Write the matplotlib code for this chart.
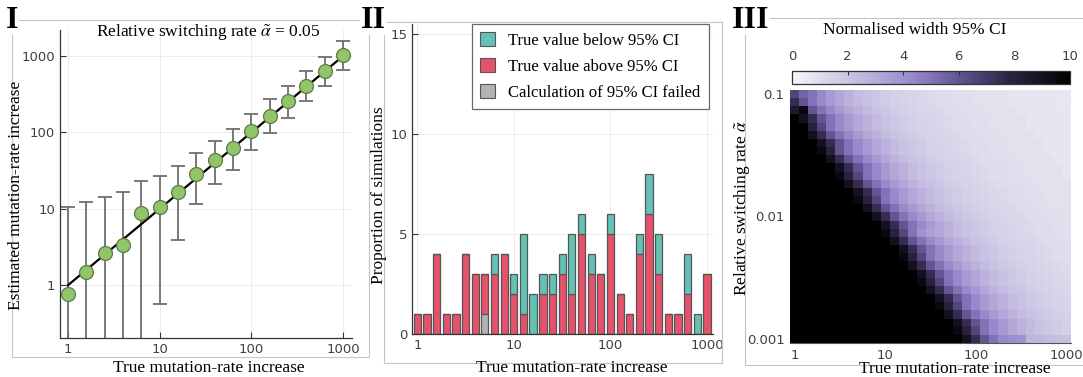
import matplotlib
matplotlib.use("Agg")
import matplotlib.pyplot as plt
import numpy as np
from matplotlib.colors import LinearSegmentedColormap
from matplotlib.patches import Rectangle

W, H = 1083, 377
SERIF = ["Liberation Serif", "DejaVu Serif"]
SANS = ["DejaVu Sans"]
plt.rcParams["mathtext.fontset"] = "stix"

# panel I: estimated vs true increase at alpha = 0.05
true_rate = [1, 1.585, 2.512, 3.981, 6.31, 10, 15.85, 25.12, 39.81, 63.1,
             100, 158.5, 251.2, 398.1, 631, 1000]
est_rate = [0.76, 1.49, 2.68, 3.4, 8.7, 10.6, 16.4, 28.5, 43.5, 63,
            105, 166, 257, 410, 635, 1030]
ci_low = [0.1, 0.1, 0.1, 0.1, 0.1, 0.56, 3.9, 11.5, 21, 32,
          59, 97, 156, 257, 405, 660]
ci_high = [10.6, 12.4, 14.4, 16.4, 23, 27, 36.6, 53, 77, 110,
           175, 270, 410, 640, 980, 1590]

# panel II: share of simulations where the truth falls outside the CI
bar_x = [1, 1.26, 1.58, 2.0, 2.51, 3.16, 3.98, 5.01, 6.31, 7.94,
         10, 12.6, 15.8, 20.0, 25.1, 31.6, 39.8, 50.1, 63.1, 79.4,
         100, 126, 158, 200, 251, 316, 398, 501, 631, 794, 1000]
failed = [0, 0, 0, 0, 0, 0, 0, 1, 0, 0,
          0, 0, 0, 0, 0, 0, 0, 0, 0, 0,
          0, 0, 0, 0, 0, 0, 0, 0, 0, 0, 0]
above = [1, 1, 4, 1, 1, 4, 3, 2, 3, 4,
         2, 1, 0, 2, 2, 3, 2, 5, 3, 3,
         5, 2, 1, 4, 6, 3, 1, 1, 2, 0, 3]
below = [0, 0, 0, 0, 0, 0, 0, 0, 1, 0,
         1, 4, 2, 1, 1, 1, 3, 1, 1, 0,
         1, 0, 0, 1, 2, 2, 0, 0, 2, 1, 0]

# panel III: normalised CI width, rows from alpha = 0.1 down to 0.001
alpha_rows = [0.1, 0.0858, 0.0736, 0.0631, 0.0541, 0.0464, 0.0398, 0.0341,
              0.0293, 0.0251, 0.0215, 0.0185, 0.0158, 0.0136, 0.0117, 0.01,
              0.00858, 0.00736, 0.00631, 0.00541, 0.00464, 0.00398, 0.00341,
              0.00293, 0.00251, 0.00215, 0.00185, 0.00158, 0.00136, 0.00117,
              0.001]
width_ci = [
    [6.5, 5.5, 5.0, 4.3, 3.7, 3.2, 2.8, 2.4, 2.1, 1.9, 1.7, 1.5, 1.4, 1.3, 1.2, 1.1, 1.0, 1.0, 0.9, 0.9, 0.8, 0.8, 0.8, 0.8, 0.7, 0.7, 0.7, 0.7, 0.7, 0.7, 0.6],
    [7.5, 6.0, 5.0, 4.3, 3.7, 3.2, 2.8, 2.4, 2.1, 1.9, 1.7, 1.5, 1.4, 1.3, 1.2, 1.1, 1.0, 1.0, 0.9, 0.9, 0.8, 0.8, 0.8, 0.8, 0.7, 0.7, 0.7, 0.7, 0.7, 0.7, 0.6],
    [8.5, 9.5, 6.0, 5.0, 4.3, 3.7, 3.2, 2.8, 2.4, 2.1, 1.9, 1.7, 1.5, 1.4, 1.3, 1.2, 1.1, 1.0, 1.0, 0.9, 0.9, 0.8, 0.8, 0.8, 0.8, 0.7, 0.7, 0.7, 0.7, 0.7, 0.7],
    [10, 9.0, 7.5, 6.0, 5.0, 4.3, 3.7, 3.2, 2.8, 2.4, 2.1, 1.9, 1.7, 1.5, 1.4, 1.3, 1.2, 1.1, 1.0, 1.0, 0.9, 0.9, 0.8, 0.8, 0.8, 0.8, 0.7, 0.7, 0.7, 0.7, 0.7],
    [10, 10, 8.0, 6.5, 5.0, 4.3, 3.7, 3.2, 2.8, 2.4, 2.1, 1.9, 1.7, 1.5, 1.4, 1.3, 1.2, 1.1, 1.0, 1.0, 0.9, 0.9, 0.8, 0.8, 0.8, 0.8, 0.7, 0.7, 0.7, 0.7, 0.7],
    [10, 10, 9.0, 7.5, 6.0, 5.0, 4.3, 3.7, 3.2, 2.8, 2.4, 2.1, 1.9, 1.7, 1.5, 1.4, 1.3, 1.2, 1.1, 1.0, 1.0, 0.9, 0.9, 0.8, 0.8, 0.8, 0.8, 0.7, 0.7, 0.7, 0.7],
    [10, 10, 10, 9.0, 7.5, 6.0, 5.0, 4.3, 3.7, 3.2, 2.8, 2.4, 2.1, 1.9, 1.7, 1.5, 1.4, 1.3, 1.2, 1.1, 1.0, 1.0, 0.9, 0.9, 0.8, 0.8, 0.8, 0.8, 0.7, 0.7, 0.7],
    [10, 10, 10, 9.5, 8.0, 6.0, 5.0, 4.3, 3.7, 3.2, 2.8, 2.4, 2.1, 1.9, 1.7, 1.5, 1.4, 1.3, 1.2, 1.1, 1.0, 1.0, 0.9, 0.9, 0.8, 0.8, 0.8, 0.8, 0.7, 0.7, 0.7],
    [10, 10, 10, 10, 9.0, 7.5, 6.0, 5.0, 4.3, 3.7, 3.2, 2.8, 2.4, 2.1, 1.9, 1.7, 1.5, 1.4, 1.3, 1.2, 1.1, 1.0, 1.0, 0.9, 0.9, 0.8, 0.8, 0.8, 0.8, 0.7, 0.7],
    [10, 10, 10, 10, 10, 9.0, 7.5, 6.0, 5.0, 4.3, 3.7, 3.2, 2.8, 2.4, 2.1, 1.9, 1.7, 1.5, 1.4, 1.3, 1.2, 1.1, 1.0, 1.0, 0.9, 0.9, 0.8, 0.8, 0.8, 0.8, 0.7],
    [10, 10, 10, 10, 10, 9.5, 8.0, 6.5, 5.0, 4.3, 3.7, 3.2, 2.8, 2.4, 2.1, 1.9, 1.7, 1.5, 1.4, 1.3, 1.2, 1.1, 1.0, 1.0, 0.9, 0.9, 0.8, 0.8, 0.8, 0.8, 0.7],
    [10, 10, 10, 10, 10, 10, 9.0, 7.5, 6.0, 5.0, 4.3, 3.7, 3.2, 2.8, 2.4, 2.1, 1.9, 1.7, 1.5, 1.4, 1.3, 1.2, 1.1, 1.0, 1.0, 0.9, 0.9, 0.8, 0.8, 0.8, 0.8],
    [10, 10, 10, 10, 10, 10, 10, 9.0, 7.5, 6.0, 5.0, 4.3, 3.7, 3.2, 2.8, 2.4, 2.1, 1.9, 1.7, 1.5, 1.4, 1.3, 1.2, 1.1, 1.0, 1.0, 0.9, 0.9, 0.8, 0.8, 0.8],
    [10, 10, 10, 10, 10, 10, 10, 9.5, 8.0, 6.5, 5.0, 4.3, 3.7, 3.2, 2.8, 2.4, 2.1, 1.9, 1.7, 1.5, 1.4, 1.3, 1.2, 1.1, 1.0, 1.0, 0.9, 0.9, 0.8, 0.8, 0.8],
    [10, 10, 10, 10, 10, 10, 10, 10, 9.0, 7.5, 6.0, 5.0, 4.3, 3.7, 3.2, 2.8, 2.4, 2.1, 1.9, 1.7, 1.5, 1.4, 1.3, 1.2, 1.1, 1.0, 1.0, 0.9, 0.9, 0.8, 0.8],
    [10, 10, 10, 10, 10, 10, 10, 10, 10, 9.0, 7.5, 6.0, 5.0, 4.3, 3.7, 3.2, 2.8, 2.4, 2.1, 1.9, 1.7, 1.5, 1.4, 1.3, 1.2, 1.1, 1.0, 1.0, 0.9, 0.9, 0.8],
    [10, 10, 10, 10, 10, 10, 10, 10, 10, 10, 9.0, 7.5, 6.0, 5.0, 4.3, 3.7, 3.2, 2.8, 2.4, 2.1, 1.9, 1.7, 1.5, 1.4, 1.3, 1.2, 1.1, 1.0, 1.0, 0.9, 0.9],
    [10, 10, 10, 10, 10, 10, 10, 10, 10, 10, 9.5, 8.0, 6.5, 5.0, 4.0, 3.5, 3.2, 2.8, 2.4, 2.1, 1.9, 1.7, 1.5, 1.4, 1.3, 1.2, 1.1, 1.0, 1.0, 0.9, 0.9],
    [10, 10, 10, 10, 10, 10, 10, 10, 10, 10, 10, 9.0, 7.5, 6.0, 5.0, 4.3, 3.7, 3.2, 2.8, 2.4, 2.1, 1.9, 1.7, 1.5, 1.4, 1.3, 1.2, 1.1, 1.0, 1.0, 0.9],
    [10, 10, 10, 10, 10, 10, 10, 10, 10, 10, 10, 10, 9.0, 7.5, 6.0, 5.0, 4.3, 3.7, 3.2, 2.8, 2.4, 2.1, 1.9, 1.7, 1.5, 1.4, 1.3, 1.2, 1.1, 1.0, 1.0],
    [10, 10, 10, 10, 10, 10, 10, 10, 10, 10, 10, 10, 9.5, 8.0, 6.5, 5.0, 4.3, 3.7, 3.2, 2.8, 2.4, 2.1, 1.9, 1.7, 1.5, 1.4, 1.3, 1.2, 1.1, 1.0, 1.0],
    [10, 10, 10, 10, 10, 10, 10, 10, 10, 10, 10, 10, 10, 9.0, 7.5, 6.0, 5.0, 4.3, 3.7, 3.2, 2.8, 2.4, 2.1, 1.9, 1.7, 1.5, 1.4, 1.3, 1.2, 1.1, 1.0],
    [10, 10, 10, 10, 10, 10, 10, 10, 10, 10, 10, 10, 10, 10, 9.0, 7.5, 6.0, 5.0, 4.3, 3.7, 3.2, 2.8, 2.4, 2.1, 1.9, 1.7, 1.5, 1.4, 1.3, 1.2, 1.1],
    [10, 10, 10, 10, 10, 10, 10, 10, 10, 10, 10, 10, 10, 10, 9.5, 8.0, 6.5, 5.0, 4.3, 3.7, 3.2, 2.8, 2.4, 2.1, 1.9, 1.7, 1.5, 1.4, 1.3, 1.2, 1.1],
    [10, 10, 10, 10, 10, 10, 10, 10, 10, 10, 10, 10, 10, 10, 10, 9.0, 7.5, 6.0, 5.0, 4.3, 3.7, 3.2, 2.8, 2.4, 2.1, 1.9, 1.7, 1.5, 1.4, 1.3, 1.2],
    [10, 10, 10, 10, 10, 10, 10, 10, 10, 10, 10, 10, 10, 10, 10, 10, 9.0, 7.5, 6.0, 5.0, 4.3, 3.7, 3.2, 2.8, 2.4, 2.1, 1.9, 1.7, 1.5, 1.4, 1.3],
    [10, 10, 10, 10, 10, 10, 10, 10, 10, 10, 10, 10, 10, 10, 10, 10, 9.5, 8.0, 6.5, 5.0, 4.3, 3.7, 3.2, 2.8, 2.4, 2.1, 1.9, 1.7, 1.5, 1.4, 1.3],
    [10, 10, 10, 10, 10, 10, 10, 10, 10, 10, 10, 10, 10, 10, 10, 10, 10, 9.0, 7.5, 6.0, 5.0, 4.3, 3.7, 3.2, 2.8, 2.4, 2.1, 1.9, 1.7, 1.5, 1.4],
    [10, 10, 10, 10, 10, 10, 10, 10, 10, 10, 10, 10, 10, 10, 10, 10, 10, 10, 9.0, 7.5, 6.0, 5.0, 4.3, 3.7, 3.2, 2.8, 2.4, 2.1, 1.9, 1.7, 1.5],
    [10, 10, 10, 10, 10, 10, 10, 10, 10, 10, 10, 10, 10, 10, 10, 10, 10, 10, 9.5, 8.0, 6.5, 5.0, 4.3, 3.7, 3.2, 2.8, 2.4, 2.1, 1.9, 1.7, 1.5],
    [10, 10, 10, 10, 10, 10, 10, 10, 10, 10, 10, 10, 10, 10, 10, 10, 10, 10, 10, 9.0, 7.5, 6.0, 5.0, 4.3, 4.2, 4.0, 2.6, 2.5, 2.4, 2.3, 2.2],
]

TEAL = "#63c1b6"
RED = "#e6526b"
GREY = "#b3b3b3"
EDGE = "#555555"
TICK_COL = "#404040"


def px(x0, y0, x1, y1):
    # pixel box (top-left origin) -> figure fraction rect
    return [x0 / W, 1 - y1 / H, (x1 - x0) / W, (y1 - y0) / H]


def log_edges(c):
    lc = np.log10(c)
    mid = (lc[1:] + lc[:-1]) / 2
    first = lc[0] - (lc[1] - lc[0]) / 2
    last = lc[-1] + (lc[-1] - lc[-2]) / 2
    return 10 ** np.concatenate([[first], mid, [last]])


def style_axes(ax):
    for s in ["top", "right"]:
        ax.spines[s].set_visible(False)
    for s in ["left", "bottom"]:
        ax.spines[s].set_color("#333333")
        ax.spines[s].set_linewidth(0.9)
    ax.tick_params(which="major", direction="in", length=4, width=0.8,
                   colors="#333333", labelcolor=TICK_COL, labelsize=9.5)
    ax.tick_params(which="minor", length=0)
    ax.grid(True, color="#ececec", lw=0.7, zorder=0)
    ax.set_axisbelow(True)
    for lab in ax.get_xticklabels() + ax.get_yticklabels():
        lab.set_family(SANS)


fig = plt.figure(figsize=(W / 100, H / 100), dpi=100)
fig.patch.set_facecolor("white")

# light frames around the three panels
for box in [(12, 20, 369, 357), (384, 22, 722, 363), (745, 18, 1090, 365)]:
    x0, y0, x1, y1 = box
    fig.add_artist(Rectangle((x0 / W, 1 - y1 / H), (x1 - x0) / W, (y1 - y0) / H,
                             transform=fig.transFigure, fill=False,
                             ec="#c4c4c4", lw=0.8))

# ---- panel I
ax1 = fig.add_axes(px(60, 30, 352, 338))
ax1.set_xscale("log")
ax1.set_yscale("log")
ax1.plot([1, 1000], [1, 1000], color="black", lw=1.6, zorder=3)
est = np.array(est_rate)
yerr = [est - np.array(ci_low), np.array(ci_high) - est]
ax1.errorbar(true_rate, est_rate, yerr=yerr, fmt="none", ecolor="#6e6e6e",
             elinewidth=1.3, capsize=5, capthick=1.3, zorder=2)
ax1.plot(true_rate, est_rate, "o", ms=10, mfc="#92c46a", mec="#5b7d44",
         mew=0.9, zorder=4)
ax1.set_xlim(0.82, 1250)
ax1.set_ylim(0.204, 2190)
ax1.set_xticks([1, 10, 100, 1000])
ax1.set_xticklabels(["1", "10", "100", "1000"])
ax1.set_yticks([1, 10, 100, 1000])
ax1.set_yticklabels(["1", "10", "100", "1000"])
style_axes(ax1)
fig.text(208 / W, 1 - 33 / H, r"Relative switching rate $\tilde{\alpha}$ = 0.05",
         ha="center", va="center", fontsize=12.5, family=SERIF)
fig.text(209 / W, 1 - 368 / H, "True mutation-rate increase", ha="center",
         va="center", fontsize=12.5, family=SERIF)
fig.text(16 / W, 1 - 195 / H, "Estimated mutation-rate increase", ha="center",
         va="center", rotation=90, fontsize=12.5, family=SERIF)

# ---- panel II
ax2 = fig.add_axes(px(412, 24, 713, 334))
ax2.set_xscale("log")
bx = np.array(bar_x)
f = 10 ** 0.037
left = bx / f
widths = bx * f - left
fl = np.array(failed)
ab = np.array(above)
be = np.array(below)
ax2.bar(left, fl, width=widths, align="edge", color=GREY, edgecolor=EDGE,
        lw=0.9, zorder=2)
ax2.bar(left, ab, width=widths, bottom=fl, align="edge", color=RED,
        edgecolor=EDGE, lw=0.9, zorder=2)
ax2.bar(left, be, width=widths, bottom=fl + ab, align="edge", color=TEAL,
        edgecolor=EDGE, lw=0.9, zorder=2)
ax2.set_xlim(0.88, 1155)
ax2.set_ylim(0, 15.5)
ax2.set_xticks([1, 10, 100, 1000])
ax2.set_xticklabels(["1", "10", "100", "1000"])
ax2.set_yticks([0, 5, 10, 15])
style_axes(ax2)
handles = [Rectangle((0, 0), 1, 1, fc=c, ec=EDGE, lw=0.8) for c in (TEAL, RED, GREY)]
leg = ax2.legend(handles, ["True value below 95% CI", "True value above 95% CI",
                           "Calculation of 95% CI failed"],
                 loc="upper right", bbox_to_anchor=(709 / W, 1 - 24 / H),
                 bbox_transform=fig.transFigure, borderaxespad=0,
                 prop={"family": SERIF, "size": 12}, handlelength=0.9,
                 handleheight=0.9, handletextpad=0.8, labelspacing=0.55,
                 fancybox=False, framealpha=1, edgecolor="#6a6a6a",
                 borderpad=0.5)
leg.get_frame().set_linewidth(0.9)
fig.text(572 / W, 1 - 368 / H, "True mutation-rate increase", ha="center",
         va="center", fontsize=12.5, family=SERIF)
fig.text(379 / W, 1 - 195 / H, "Proportion of simulations", ha="center",
         va="center", rotation=90, fontsize=12.5, family=SERIF)

# ---- panel III
cmap = LinearSegmentedColormap.from_list(
    "ciwidth", [(0.0, "#f8f8fb"), (0.1, "#dfdbec"), (0.25, "#c1b8df"),
                (0.42, "#9c8dce"), (0.5, "#8473b8"), (0.62, "#5d4e8b"),
                (0.78, "#2d2545"), (1.0, "#000000")])
ax3 = fig.add_axes(px(790, 90, 1071, 343))
ax3.set_xscale("log")
ax3.set_yscale("log")
alpha_up = np.array(alpha_rows)[::-1]
grid = np.array(width_ci)[::-1]
mesh = ax3.pcolormesh(log_edges(np.array(bar_x)), log_edges(alpha_up), grid,
                      cmap=cmap, vmin=0, vmax=10, shading="flat")
ax3.set_xticks([1, 10, 100, 1000])
ax3.set_xticklabels(["1", "10", "100", "1000"])
ax3.set_yticks([0.001, 0.01, 0.1])
ax3.set_yticklabels(["0.001", "0.01", "0.1"])
ax3.tick_params(which="both", length=0, pad=4, labelsize=9.5, labelcolor=TICK_COL)
for s in ["top", "right", "left"]:
    ax3.spines[s].set_visible(False)
ax3.spines["bottom"].set_color("#555555")
for lab in ax3.get_xticklabels() + ax3.get_yticklabels():
    lab.set_family(SANS)

cax = fig.add_axes(px(792, 71, 1070, 84))
cb = fig.colorbar(mesh, cax=cax, orientation="horizontal",
                  ticks=[0, 2, 4, 6, 8, 10])
cax.xaxis.set_ticks_position("top")
cax.tick_params(direction="in", length=3, width=0.8, colors="#333333",
                labelcolor=TICK_COL, labelsize=9.5, pad=6)
for lab in cax.get_xticklabels():
    lab.set_family(SANS)
cb.outline.set_edgecolor("#333333")
cb.outline.set_linewidth(0.9)

fig.text(915 / W, 1 - 30 / H, "Normalised width 95% CI", ha="center",
         va="center", fontsize=12.5, family=SERIF)
fig.text(955 / W, 1 - 369 / H, "True mutation-rate increase", ha="center",
         va="center", fontsize=12.5, family=SERIF)
fig.text(743 / W, 1 - 208 / H, r"Relative switching rate $\tilde{\alpha}$",
         ha="center", va="center", rotation=90, fontsize=12.5, family=SERIF)

# panel numbering
for x, lab in [(6, "I"), (361, "II"), (732, "III")]:
    fig.text(x / W, 1 - 20 / H, lab, ha="left", va="center", fontsize=23,
             fontweight="bold", family=SERIF,
             bbox=dict(fc="white", ec="none", pad=0.5))

fig.savefig("out.png", dpi=100)
